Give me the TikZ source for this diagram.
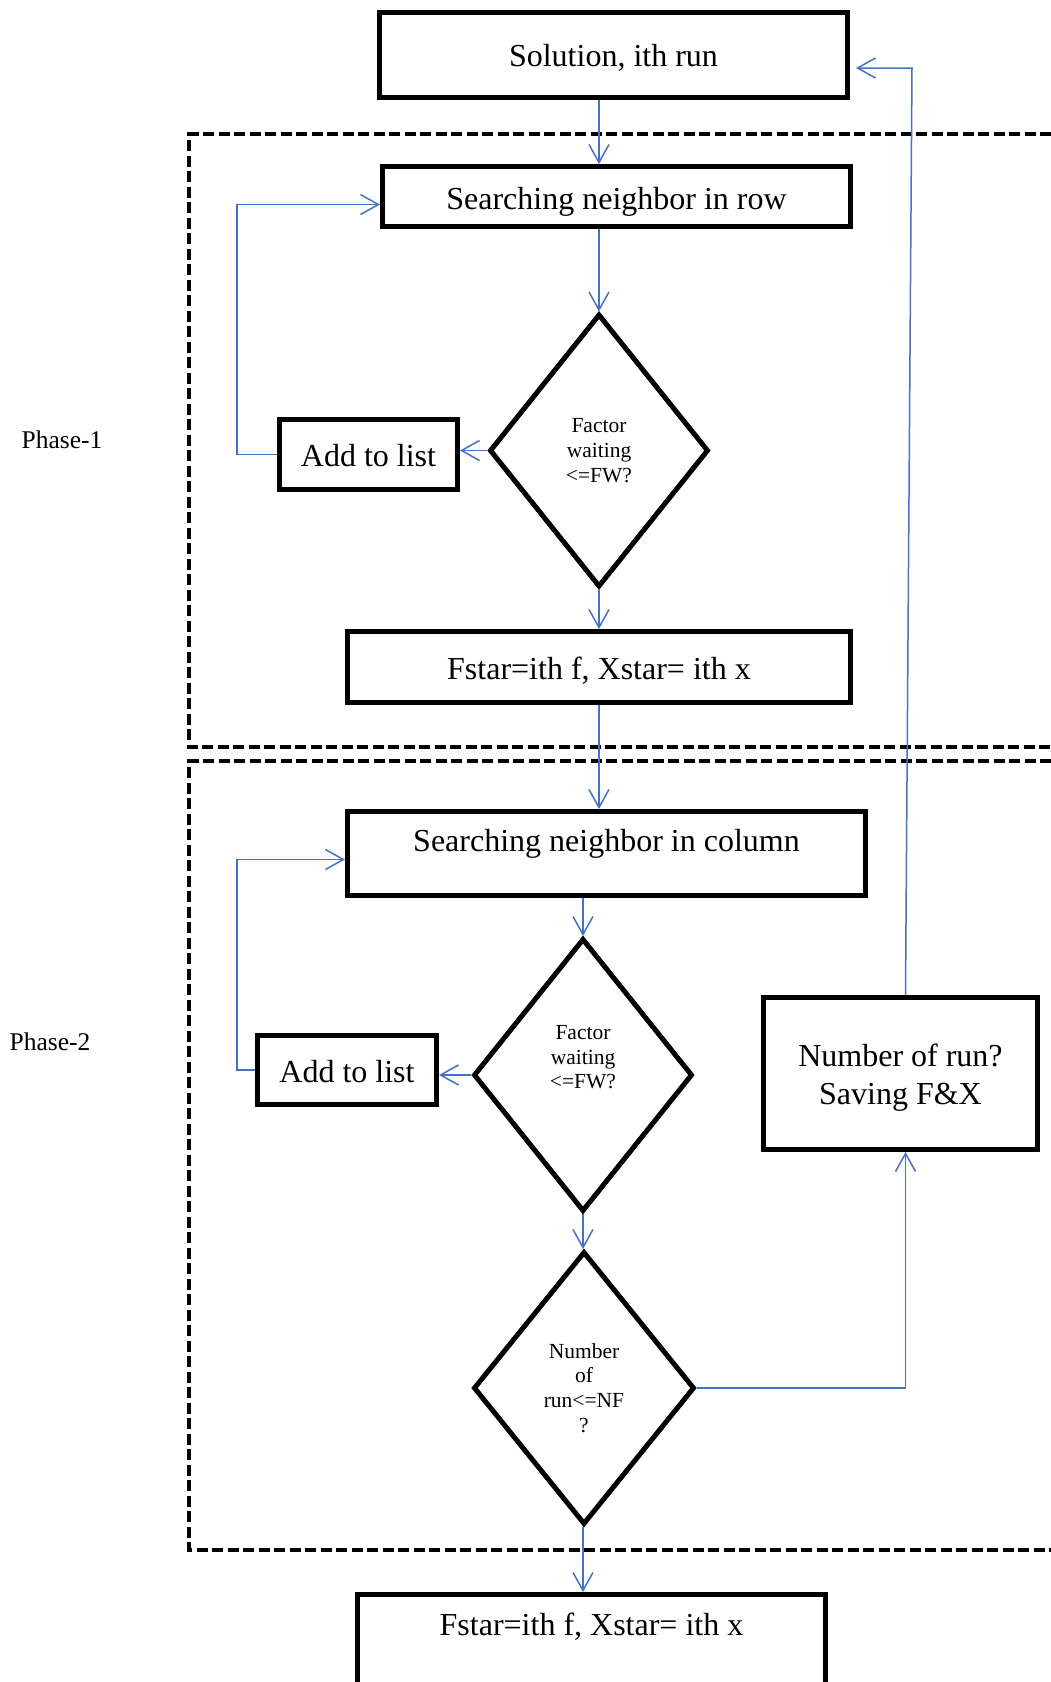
\documentclass[tikz,border=0pt]{standalone}
\usepackage{fontspec}
\setmainfont{Liberation Serif}
\usetikzlibrary{shapes.geometric,arrows.meta}
\definecolor{flowblue}{HTML}{4472C4}
\begin{document}
\begin{tikzpicture}[x=1pt,y=-1pt,
    box/.style={draw,line width=5pt,inner sep=0pt,font=\fontsize{32}{38}\selectfont},
    test/.style={draw,diamond,line width=5pt,inner sep=0pt,minimum width=219pt,minimum height=273pt,
      align=center,font=\fontsize{21.5}{24.7}\selectfont},
    flow/.style={draw=flowblue,line width=1.5pt,-{Straight Barb[length=18pt,width=20pt]}},
    phase/.style={line width=3.8pt,dash pattern=on 11pt off 4.5pt},
    tag/.style={font=\fontsize{25.5}{30}\selectfont}]
  \useasboundingbox (0,0) rectangle (1051,1682);
  \draw[phase] (1051,134) -- (189,134) -- (189,747) -- (1051,747);
  \draw[phase] (1051,761) -- (189,761) -- (189,1550) -- (1051,1550);
  \draw
    (613.5,55) node[box,minimum width=468pt,minimum height=85pt,text height=28.4pt] (sol) {Solution, ith run}
    (616.5,196.5) node[box,minimum width=468pt,minimum height=60pt,text height=32.8pt] (row) {Searching neighbor in row}
    (599,450.5) node[test] (fw1) {Factor\\waiting\\<=FW?}
    (368.5,454.5) node[box,minimum width=178pt,minimum height=70pt,text height=24pt] (add1) {Add to list}
    (599,667) node[box,minimum width=503pt,minimum height=71pt,text height=30.6pt] (best1) {Fstar=ith f, Xstar= ith x}
    (606.5,809) node[box,anchor=north,minimum width=518pt,text height=40pt,text depth=44pt] (col) {Searching neighbor in column}
    (583,1075) node[test,text depth=36pt] (fw2) {Factor\\waiting\\<=FW?}
    (347,1070) node[box,minimum width=179pt,minimum height=69pt,text height=26pt] (add2) {Add to list}
    (584,1388) node[test,minimum width=221pt] (nf) {Number\\of\\run<=NF\\?}
    (900.5,1073.5) node[box,align=center,minimum width=274pt,minimum height=152pt,text height=68.6pt] (save) {Number of run?\\Saving F\&X}
    (591.5,1592) node[box,anchor=north,minimum width=468pt,text height=41pt,text depth=100pt] (best2) {Fstar=ith f, Xstar= ith x}
    (62,440) node[tag] (p1) {Phase-1}
    (50,1042) node[tag] (p2) {Phase-2};
  \coordinate (ret) at (912,68);
  \begin{scope}[flow]
    \draw (sol.south -| fw1) to (row.north -| fw1);
    \draw (row.south -| fw1) to (fw1.north);
    \draw (fw1.west) to (add1.east |- fw1.west);
    \draw (add1.west) -- ++(-40,0) |- ([yshift=-8pt]row.west);
    \draw (fw1.south) to (fw1.south |- best1.north);
    \draw (best1.south -| fw1) to (col.north -| fw1);
    \draw (col.south -| fw2) to (fw2.north);
    \draw (fw2.west) to (add2.east |- fw2.west);
    \draw (add2.west) -- ++(-18,0) |- ([yshift=-6pt]col.west);
    \draw (fw2.south) to (nf.north -| fw2);
    \draw (nf.east) -| ([xshift=5pt]save.south);
    \draw[shorten >=6pt] ([xshift=5pt]save.north) -- (ret) -- (sol.east |- ret);
    \draw (nf.south -| fw2) to (fw2 |- best2.north);
  \end{scope}
\end{tikzpicture}
\end{document}
